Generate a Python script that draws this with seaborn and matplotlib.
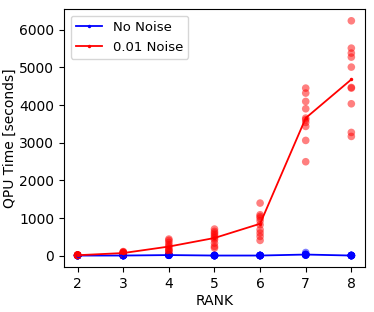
import pandas as pd
import numpy as np
import matplotlib
matplotlib.use('Agg')
import matplotlib.pyplot as plt
import seaborn as sns

# ranks and per-run QPU times
ranks = [2, 3, 4, 5, 6, 7, 8]

noise_times = {
    2: [5, 10, 15, 20, 8, 12, 25, 18, 6, 14],
    3: [110, 90, 80, 70, 60, 50, 40, 100, 65, 45],
    4: [442, 407, 354, 292, 248, 204, 159, 142, 115, 71],
    5: [708, 646, 602, 558, 513, 469, 425, 336, 248, 204],
    6: [1398, 1088, 1044, 1000, 929, 823, 690, 602, 513, 407],
    7: [4451, 4319, 4097, 3903, 3655, 3611, 3540, 3434, 3062, 2496],
    8: [6239, 5513, 5381, 5274, 5009, 4469, 4451, 4035, 3274, 3168],
}

no_noise_times = {
    2: [2, 4, 6, 3, 5, 4, 3, 6, 5, 4],
    3: [3, 5, 6, 4, 5, 7, 4, 6, 3, 5],
    4: [10, 15, 20, 25, 18, 12, 22, 16, 14, 20],
    5: [3, 5, 6, 4, 5, 7, 4, 6, 3, 5],
    6: [3, 5, 6, 4, 5, 7, 4, 6, 3, 5],
    7: [85, 40, 30, 20, 25, 15, 20, 30, 25, 20],
    8: [3, 5, 6, 4, 5, 7, 4, 6, 3, 5],
}

rows = []
for r in ranks:
    for v in no_noise_times[r]:
        rows.append({'rank': r, 'time': v, 'kind': 'No Noise'})
    for v in noise_times[r]:
        rows.append({'rank': r, 'time': v, 'kind': '0.01 Noise'})
df = pd.DataFrame(rows)

fig = plt.figure(figsize=(3.74, 3.12), dpi=100)
ax = fig.add_axes([0.171, 0.143, 0.805, 0.828])

colors = {'No Noise': 'blue', '0.01 Noise': 'red'}

for kind in ['No Noise', '0.01 Noise']:
    sub = df[df['kind'] == kind]
    sns.lineplot(data=sub, x='rank', y='time', estimator='mean', errorbar=None,
                 color=colors[kind], marker='.', markersize=5, markeredgewidth=0,
                 linewidth=1.3, label=kind, ax=ax)
    sns.scatterplot(data=sub, x='rank', y='time', color=colors[kind],
                    alpha=0.5, s=30, edgecolor='none', ax=ax, legend=False)

ax.set_xlabel('RANK', fontsize=10, labelpad=2)
ax.set_ylabel('QPU Time [seconds]', fontsize=10)
ax.yaxis.set_label_coords(-0.155, 0.5)
ax.set_xticks(ranks)
ax.tick_params(labelsize=10)
ax.legend(loc='upper left', fontsize=9.5)

plt.savefig('out.png', dpi=100)
